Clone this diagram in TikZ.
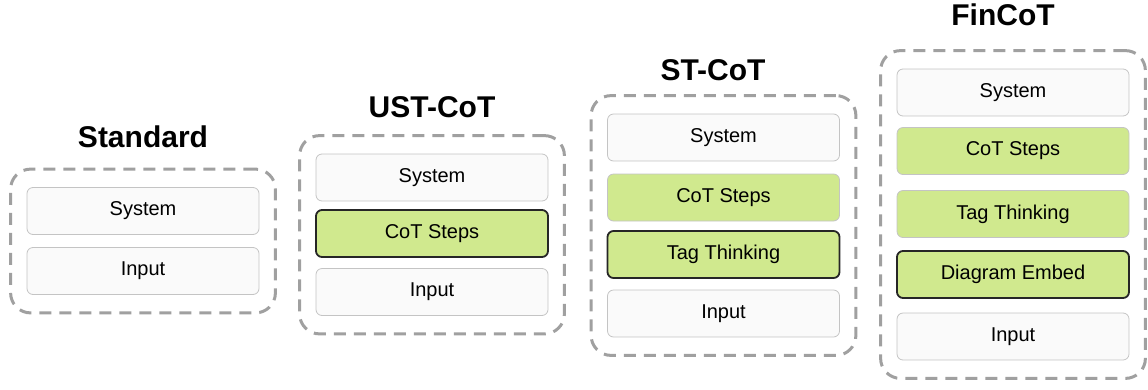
\documentclass[tikz,border=0pt]{standalone}
\usepackage{fontspec}
\setmainfont{Liberation Sans}
\usepackage{tikz}
\usetikzlibrary{fit}

\definecolor{boxgray}{HTML}{C4C4C4}
\definecolor{boxfill}{HTML}{FAFAFA}
\definecolor{cotgreen}{HTML}{D0E98E}
\definecolor{framegray}{HTML}{A0A0A0}

\begin{document}
\begin{tikzpicture}[x=1pt, y=-1pt,
  part/.style={rectangle, rounded corners=6pt, draw=boxgray, line width=0.8pt, fill=boxfill,
    minimum width=232pt, minimum height=47pt, inner sep=0pt, font=\fontsize{20}{24}\selectfont},
  green/.style={fill=cotgreen},
  added/.style={draw=black!85, line width=1.8pt},
  frame/.style={rectangle, rounded corners=20pt, draw=framegray, line width=3pt,
    dash pattern=on 12pt off 8pt, inner xsep=16pt, inner ysep=18pt},
  title/.style={font=\bfseries\fontsize{30}{36}\selectfont}]
\useasboundingbox (0,0) rectangle (1148,389);
% Standard
\node (stdsys) at (143,211) [part] {System};
\node (stdinp) at (143,271) [part] {Input};
\node (stdframe) [frame, fit=(stdsys)(stdinp)] {};
\node (stdtitle) at (143,137) [title] {Standard};
% UST-CoT
\node (ustsys) at (432,177.5) [part] {System};
\node (ustcot) at (432,233.5) [part, green, added] {CoT Steps};
\node (ustinp) at (432,292) [part] {Input};
\node (ustframe) [frame, fit=(ustsys)(ustinp)] {};
\node (usttitle) at (432,107) [title] {UST-CoT};
% ST-CoT
\node (stsys) at (723.5,137.5) [part] {System};
\node (stcot) at (723.5,197.5) [part, green] {CoT Steps};
\node (sttag) at (723.5,254.5) [part, green, added] {Tag Thinking};
\node (stinp) at (723.5,313.5) [part] {Input};
\node (stframe) [frame, fit=(stsys)(stinp)] {};
\node (sttitle) at (713,70) [title] {ST-CoT};
% FinCoT
\node (finsys) at (1013,92.5) [part] {System};
\node (fincot) at (1013,151) [part, green] {CoT Steps};
\node (fintag) at (1013,214) [part, green] {Tag Thinking};
\node (findia) at (1013,274.5) [part, green, added] {Diagram Embed};
\node (fininp) at (1013,336.5) [part] {Input};
\node (finframe) [frame, fit=(finsys)(fininp)] {};
\node (fintitle) at (1003,15) [title] {FinCoT};
\end{tikzpicture}
\end{document}
